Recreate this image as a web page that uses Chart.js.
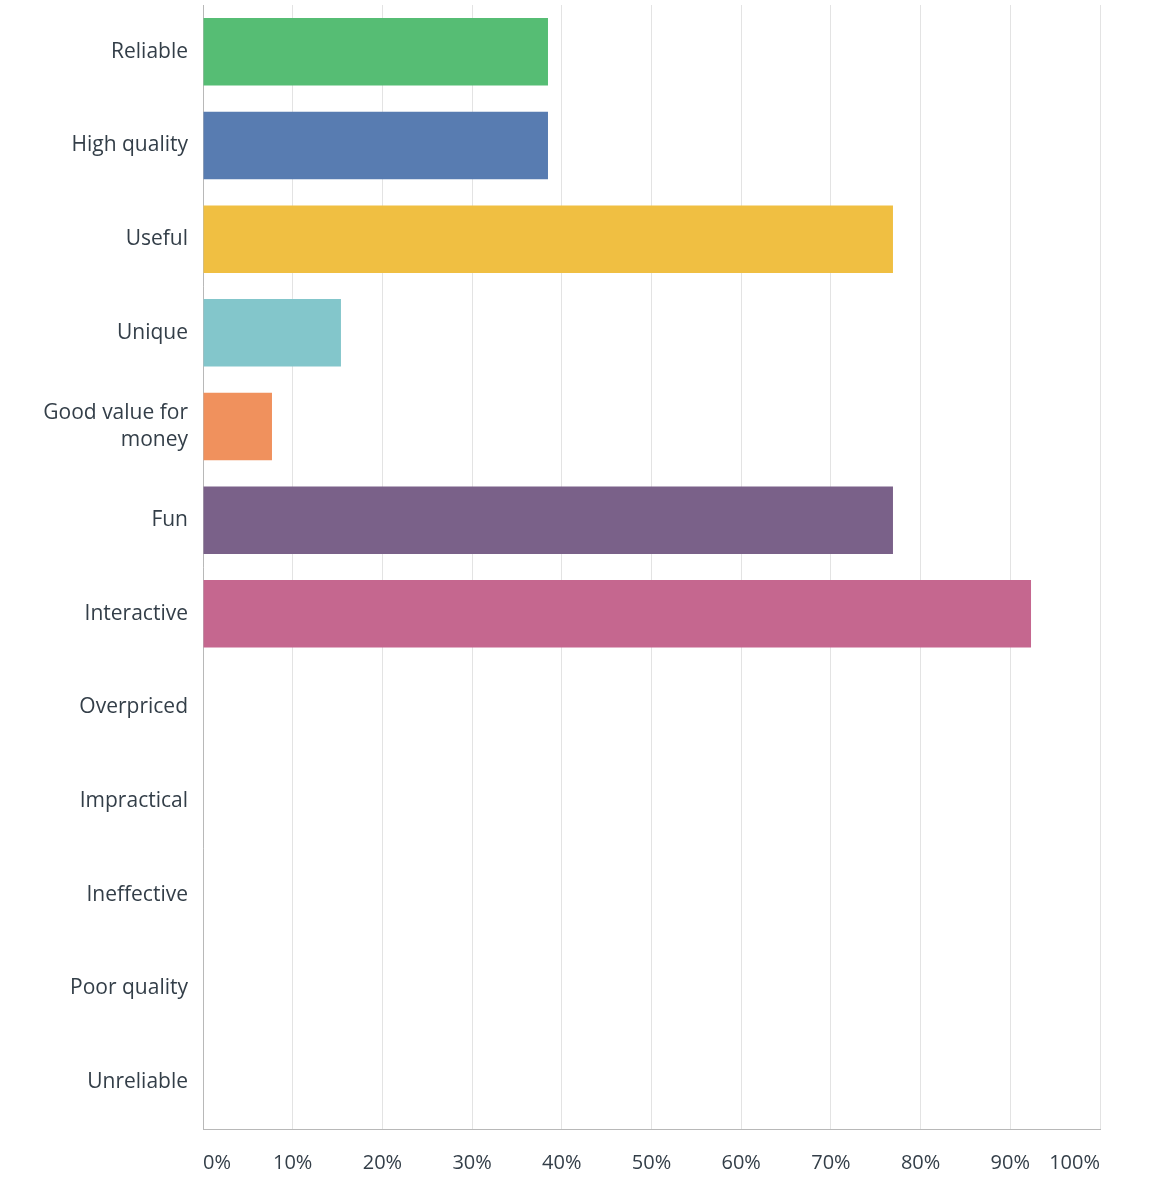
<!DOCTYPE html>
<html>
<head>
<meta charset="utf-8">
<script src="https://cdn.jsdelivr.net/npm/chart.js@4"></script>
<style>
  html, body { margin: 0; padding: 0; background: #fff; }
</style>
</head>
<body>
<canvas id="answersChart" width="1166" height="1200"></canvas>
<script>
// Answer choices and share of respondents (percent)
const categories = ['Reliable', 'High quality', 'Useful', 'Unique', ['Good value for', 'money'],
    'Fun', 'Interactive', 'Overpriced', 'Impractical', 'Ineffective', 'Poor quality', 'Unreliable'];
const percentages = [38.46, 38.46, 76.92, 15.38, 7.69, 76.92, 92.31, 0, 0, 0, 0, 0];
const barColors = ['#56bd74', '#587cb1', '#f0bf42', '#83c6cb', '#f0915d', '#7a6189', '#c5678f',
    '#cccccc', '#cccccc', '#cccccc', '#cccccc', '#cccccc'];
const tickValues = [0, 10, 20, 30, 40, 50, 60, 70, 80, 90, 100];

const fontFamily = "'Open Sans', 'Noto Sans', sans-serif";
const textColor = '#333e48';

const ctx = document.getElementById('answersChart').getContext('2d');
const answersChart = new Chart(ctx, {
    type: 'bar',
    data: {
        labels: categories,
        datasets: [{
            data: percentages,
            backgroundColor: barColors,
            borderWidth: 0,
            barPercentage: 0.72,
            categoryPercentage: 1.0
        }]
    },
    options: {
        indexAxis: 'y',
        responsive: false,
        animation: false,
        layout: { padding: { top: 5, right: 66, bottom: 0, left: 0 } },
        plugins: {
            legend: { display: false },
            tooltip: { enabled: false }
        },
        scales: {
            x: {
                min: 0,
                max: 100,
                afterBuildTicks: (scale) => {
                    scale.ticks = tickValues.map(v => ({ value: v }));
                },
                afterFit: (scale) => { scale.height = 71; },
                grid: { color: '#e3e3e3', lineWidth: 1, drawTicks: false },
                border: { color: '#b8b8b8', width: 1 },
                ticks: {
                    padding: 22,
                    align: 'inner',
                    color: textColor,
                    font: { family: fontFamily, size: 20 },
                    maxRotation: 0,
                    autoSkip: false,
                    callback: (v) => v + '%'
                }
            },
            y: {
                afterFit: (scale) => {
                    scale.width = 203;
                    // no extra room above/below the category band
                    scale.paddingTop = 0;
                    scale.paddingBottom = 0;
                },
                grid: { display: false, drawTicks: false },
                border: { color: '#b8b8b8', width: 1 },
                ticks: {
                    padding: 15,
                    color: textColor,
                    font: { family: fontFamily, size: 21, lineHeight: 1.3 },
                    autoSkip: false
                }
            }
        }
    }
});
</script>
</body>
</html>
